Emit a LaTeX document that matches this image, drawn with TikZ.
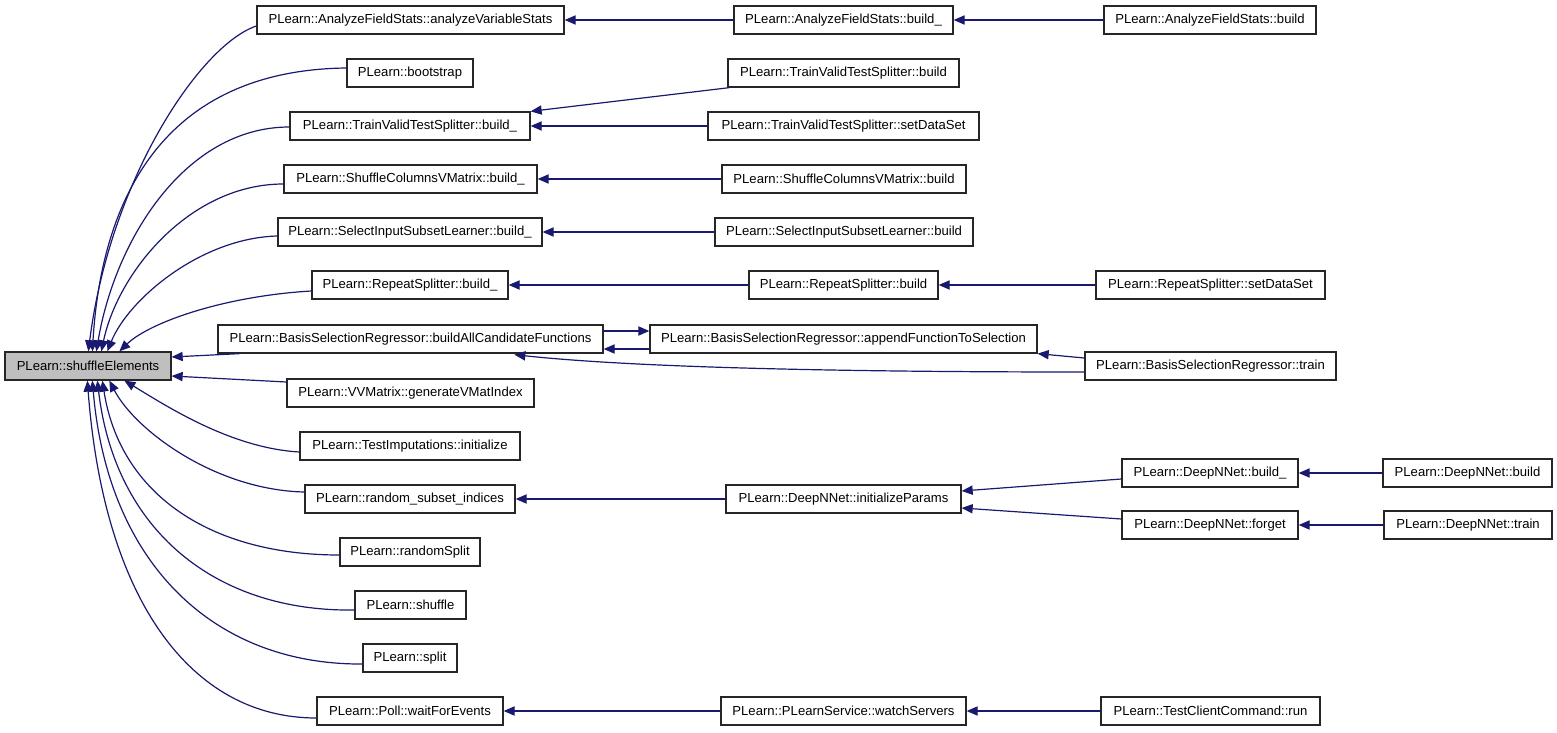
\documentclass[tikz,border=0pt]{standalone}
\usepackage{fontspec}
\setmainfont{Liberation Sans}
\usetikzlibrary{arrows.meta,calc}
\definecolor{edgeblue}{HTML}{191970}
\definecolor{segray}{HTML}{BFBFBF}
\newcommand\bx[7][]{\node[box,#1,minimum width={(#5-#3)*0.5pt},minimum height={(#6-#4)*0.5pt}] (#2) at ({(#3+#5)/2},{(#4+#6)/2}) {#7};}
\begin{document}
\begin{tikzpicture}[x=0.5pt,y=-0.5pt,
  box/.style={draw=black!85,line width=0.65pt,fill=white,inner sep=0pt,font=\fontsize{6.55}{8}\selectfont,text=black},
  edge/.style={draw=edgeblue,line width=0.6pt,-{Triangle[length=5.5pt,width=4.6pt]},fill=none}]
\useasboundingbox (0,0) rectangle (1557,733);
% column 1
\bx[fill=segray]{se}{5}{352}{171}{380}{PLearn::shuffleElements}
% column 2
\bx{avs}{257}{6}{564}{34}{PLearn::AnalyzeFieldStats::analyzeVariableStats}
\bx{boot}{347}{59}{473}{87}{PLearn::bootstrap}
\bx{tvbu}{290}{112}{530}{140}{PLearn::TrainValidTestSplitter::build\_}
\bx{scbu}{284}{165}{537}{193}{PLearn::ShuffleColumnsVMatrix::build\_}
\bx{sisbu}{278}{218}{542}{246}{PLearn::SelectInputSubsetLearner::build\_}
\bx{rsbu}{312}{271}{508}{299}{PLearn::RepeatSplitter::build\_}
\bx{bac}{218}{325}{603}{353}{PLearn::BasisSelectionRegressor::buildAllCandidateFunctions}
\bx{vvm}{287}{379}{534}{407}{PLearn::VVMatrix::generateVMatIndex}
\bx{ti}{300}{432}{520}{460}{PLearn::TestImputations::initialize}
\bx{rsi}{305}{485}{515}{513}{PLearn::random\_subset\_indices}
\bx{rsp}{340}{538}{480}{566}{PLearn::randomSplit}
\bx{shf}{355}{591}{466}{619}{PLearn::shuffle}
\bx{spl}{363}{644}{457}{672}{PLearn::split}
\bx{poll}{317}{697}{503}{725}{PLearn::Poll::waitForEvents}
% column 3
\bx{afsbu}{734}{6}{953}{34}{PLearn::AnalyzeFieldStats::build\_}
\bx{tvb}{728}{59}{959}{87}{PLearn::TrainValidTestSplitter::build}
\bx{tvs}{708}{112}{979}{140}{PLearn::TrainValidTestSplitter::setDataSet}
\bx{scb}{722}{165}{966}{193}{PLearn::ShuffleColumnsVMatrix::build}
\bx{sisb}{715}{218}{973}{246}{PLearn::SelectInputSubsetLearner::build}
\bx{rsb}{749}{271}{938}{299}{PLearn::RepeatSplitter::build}
\bx{app}{650}{325}{1037}{353}{PLearn::BasisSelectionRegressor::appendFunctionToSelection}
\bx{ip}{726}{485}{961}{513}{PLearn::DeepNNet::initializeParams}
\bx{ws}{721}{697}{966}{725}{PLearn::PLearnService::watchServers}
% column 4
\bx{afsb}{1104}{6}{1316}{34}{PLearn::AnalyzeFieldStats::build}
\bx{rss}{1096}{271}{1325}{299}{PLearn::RepeatSplitter::setDataSet}
\bx{train}{1085}{352}{1336}{380}{PLearn::BasisSelectionRegressor::train}
\bx{dnbu}{1122}{459}{1298}{487}{PLearn::DeepNNet::build\_}
\bx{dnf}{1122}{511}{1298}{539}{PLearn::DeepNNet::forget}
\bx{tcc}{1101}{697}{1320}{725}{PLearn::TestClientCommand::run}
% column 5
\bx{dnb}{1383}{459}{1552}{487}{PLearn::DeepNNet::build}
\bx{dnt}{1384}{511}{1552}{539}{PLearn::DeepNNet::train}

% edges into shuffleElements (top)
\draw[edge] ($(avs.west)+(0,6)$) .. controls (200,45) and (110,180) .. ($(se.north west)+(84,0)$);
\draw[edge] ($(boot.west)+(0,-5)$) .. controls (170,70) and (102,190) .. ($(se.north west)+(88,0)$);
\draw[edge] ($(tvbu.west)+(0,1)$) .. controls (185,127) and (115,240) .. ($(se.north west)+(92,0)$);
\draw[edge] ($(scbu.west)+(0,5)$) .. controls (190,184) and (118,272) .. ($(se.north west)+(97,0)$);
\draw[edge] ($(sisbu.west)+(0,4)$) .. controls (200,238) and (128,300) .. ($(se.north west)+(103,0)$);
\draw[edge] ($(rsbu.west)+(0,6)$) .. controls (225,296) and (150,322) .. ($(se.north west)+(115,0)$);
\draw[edge] ($(bac.south west)+(22,0)$) -- ($(se.east)+(0,-9)$);
\draw[edge] ($(vvm.west)+(0,-11)$) -- ($(se.east)+(0,10)$);
% edges into shuffleElements (bottom)
\draw[edge] ($(ti.west)+(0,6)$) .. controls (230,448) and (165,405) .. ($(se.south west)+(120,0)$);
\draw[edge] ($(rsi.west)+(0,-7)$) .. controls (215,490) and (135,430) .. ($(se.south west)+(105,0)$);
\draw[edge] ($(rsp.west)+(0,3)$) .. controls (210,555) and (120,494) .. ($(se.south west)+(98,0)$);
\draw[edge] ($(shf.west)+(0,5)$) .. controls (215,612) and (115,530) .. ($(se.south west)+(93,0)$);
\draw[edge] ($(spl.west)+(0,6)$) .. controls (215,665) and (108,565) .. ($(se.south west)+(88,0)$);
\draw[edge] ($(poll.west)+(0,7)$) .. controls (191,718) and (104,600) .. ($(se.south west)+(83,0)$);

% other edges
\draw[edge] (afsbu.west) -- (avs.east);
\draw[edge] (afsb.west) -- (afsbu.east);
\draw[edge] ($(tvb.south west)+(2,0)$) -- (tvbu.north east);
\draw[edge] (tvs.west) -- (tvbu.east);
\draw[edge] (scb.west) -- (scbu.east);
\draw[edge] (sisb.west) -- (sisbu.east);
\draw[edge] (rsb.west) -- (rsbu.east);
\draw[edge] (rss.west) -- (rsb.east);
\draw[edge] ($(bac.east)+(0,-8)$) -- ($(app.west)+(0,-8)$);
\draw[edge] ($(app.west)+(0,10)$) -- ($(bac.east)+(0,10)$);
\draw[edge] ($(train.west)+(0,-8)$) -- (app.south east);
\draw[edge] ($(train.west)+(0,6)$) .. controls (800,372) and (620,366) .. ($(bac.south west)+(297,1)$);
\draw[edge] (ip.west) -- (rsi.east);
\draw[edge] ($(dnbu.west)+(0,6)$) -- ($(ip.east)+(0,-8)$);
\draw[edge] ($(dnf.west)+(0,-6)$) -- ($(ip.east)+(0,9)$);
\draw[edge] (dnb.west) -- (dnbu.east);
\draw[edge] (dnt.west) -- (dnf.east);
\draw[edge] (ws.west) -- (poll.east);
\draw[edge] (tcc.west) -- (ws.east);
\end{tikzpicture}
\end{document}
